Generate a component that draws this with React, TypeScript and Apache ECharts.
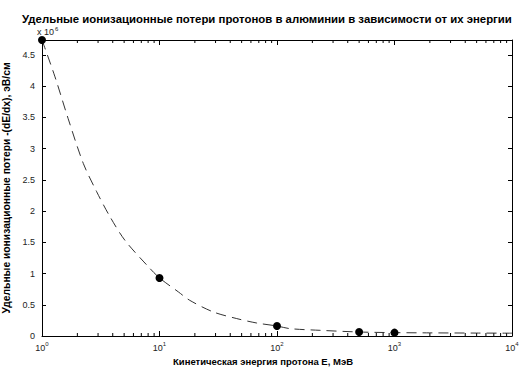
import React, { useEffect, useRef } from "react";
import * as echarts from "echarts";

const TITLE = "Удельные ионизационные потери протонов в алюминии в зависимости от их энергии";
const X_NAME = "Кинетическая энергия протона E, МэВ";
const Y_NAME = "Удельные ионизационные потери -(dE/dx), эВ/см";

// measured points (E in MeV, losses in units of 10^6 eV/cm)
const pointE = [1, 10, 100, 500, 1000];
const pointLoss = [4.74, 0.93, 0.16, 0.064, 0.054];

// dashed fitted curve
const curveE = [1, 1.29, 1.67, 2.25, 2.92, 3.79, 5.09, 8.03, 10, 14.5, 18.1, 28.7, 45.4, 67.2, 100, 129, 232, 500, 1000, 2000, 5000, 10000];
const curveLoss = [4.74, 4.15, 3.48, 2.76, 2.31, 1.91, 1.53, 1.11, 0.93, 0.705, 0.571, 0.385, 0.279, 0.208, 0.16, 0.118, 0.091, 0.064, 0.054, 0.05, 0.047, 0.045];

const X_MIN = 1;
const X_MAX = 10000;
const Y_MIN = 0;
const Y_MAX = 4.74;
const Y_INTERVAL = 0.5;

const decades = [1, 10, 100, 1000];
const minorMultipliers = [2, 3, 4, 5, 6, 7, 8, 9];

const FONT = "'Liberation Sans', Arial, Helvetica, sans-serif";

export default function App() {
  const ref = useRef<HTMLDivElement>(null);

  useEffect(() => {
    if (!ref.current) return;
    const chart = echarts.init(ref.current, null, { renderer: "svg" });

    const minorTicks: number[][] = [];
    decades.forEach((d) => minorMultipliers.forEach((m) => minorTicks.push([d * m, 0])));

    const axisLineStyle = { color: "#000", width: 1 };

    chart.setOption({
      animation: false,
      backgroundColor: "#fff",
      textStyle: { fontFamily: FONT },
      title: {
        text: TITLE,
        left: 17,
        top: 8,
        textStyle: { fontFamily: FONT, fontSize: 11.4, fontWeight: "bold", color: "#000" },
      },
      grid: { left: 42, right: 10, top: 40, bottom: 37, containLabel: false, outerBoundsMode: "none" },
      xAxis: [
        {
          type: "log",
          logBase: 10,
          min: X_MIN,
          max: X_MAX,
          position: "bottom",
          name: X_NAME,
          nameLocation: "middle",
          nameGap: 18,
          nameTextStyle: { fontFamily: FONT, fontSize: 9.5, fontWeight: "bold", color: "#000", padding: [0, 28, 0, 0] },
          axisLine: { show: true, onZero: false, lineStyle: axisLineStyle },
          axisTick: { show: true, inside: true, length: 5, lineStyle: axisLineStyle },
          splitLine: { show: false },
          axisLabel: {
            margin: 5,
            formatter: (v: number) => `{b|10}{s|${Math.round(Math.log10(v))}}`,
            rich: {
              b: { fontFamily: FONT, fontSize: 9, color: "#222" },
              s: { fontFamily: FONT, fontSize: 6, color: "#222", padding: [0, 0, 7, 0] },
            },
          },
        },
        {
          type: "log",
          logBase: 10,
          min: X_MIN,
          max: X_MAX,
          position: "top",
          axisLine: { show: true, onZero: false, lineStyle: axisLineStyle },
          axisTick: { show: true, inside: true, length: 5, lineStyle: axisLineStyle },
          axisLabel: { show: false },
          splitLine: { show: false },
        },
      ],
      yAxis: [
        {
          type: "value",
          min: Y_MIN,
          max: Y_MAX,
          interval: Y_INTERVAL,
          position: "left",
          name: Y_NAME,
          nameLocation: "middle",
          nameGap: 30,
          nameTextStyle: { fontFamily: FONT, fontSize: 10.3, fontWeight: "bold", color: "#000" },
          axisLine: { show: true, onZero: false, lineStyle: axisLineStyle },
          axisTick: { show: true, inside: true, length: 4, lineStyle: axisLineStyle },
          splitLine: { show: false },
          axisLabel: { showMaxLabel: false, margin: 7, fontFamily: FONT, fontSize: 9, color: "#222" },
        },
        {
          type: "value",
          min: Y_MIN,
          max: Y_MAX,
          interval: Y_INTERVAL,
          position: "right",
          axisLine: { show: true, onZero: false, lineStyle: axisLineStyle },
          axisTick: { show: true, inside: true, length: 4, lineStyle: axisLineStyle },
          axisLabel: { show: false },
          splitLine: { show: false },
        },
      ],
      graphic: [
        {
          type: "text",
          left: 37,
          top: 26,
          style: {
            text: "{b|x 10}{s|6}",
            rich: {
              b: { fontFamily: FONT, fontSize: 9, fill: "#222" },
              s: { fontFamily: FONT, fontSize: 6, fill: "#222", padding: [0, 0, 6, 1] },
            },
          },
        },
      ],
      series: [
        {
          type: "custom",
          xAxisIndex: 0,
          yAxisIndex: 0,
          silent: true,
          clip: false,
          data: minorTicks,
          renderItem: (_params: any, api: any) => {
            const x = api.value(0);
            const b = api.coord([x, Y_MIN]);
            const t = api.coord([x, Y_MAX]);
            return {
              type: "group",
              children: [
                { type: "line", shape: { x1: b[0], y1: b[1], x2: b[0], y2: b[1] - 3 }, style: { stroke: "#000", lineWidth: 1 } },
                { type: "line", shape: { x1: t[0], y1: t[1], x2: t[0], y2: t[1] + 3 }, style: { stroke: "#000", lineWidth: 1 } },
              ],
            };
          },
        },
        {
          type: "line",
          data: curveE.map((e, i) => [e, curveLoss[i]]),
          smooth: 0.3,
          showSymbol: false,
          symbol: "none",
          silent: true,
          lineStyle: { color: "#333", width: 1, type: [10, 6] },
          z: 3,
        },
        {
          type: "scatter",
          data: pointE.map((e, i) => [e, pointLoss[i]]),
          symbol: "circle",
          symbolSize: 8,
          clip: false,
          itemStyle: { color: "#000", opacity: 1 },
          z: 4,
        },
      ],
    });

    return () => chart.dispose();
  }, []);

  return <div ref={ref} style={{ position: "fixed", left: 0, top: 0, width: 522, height: 373 }} />;
}
